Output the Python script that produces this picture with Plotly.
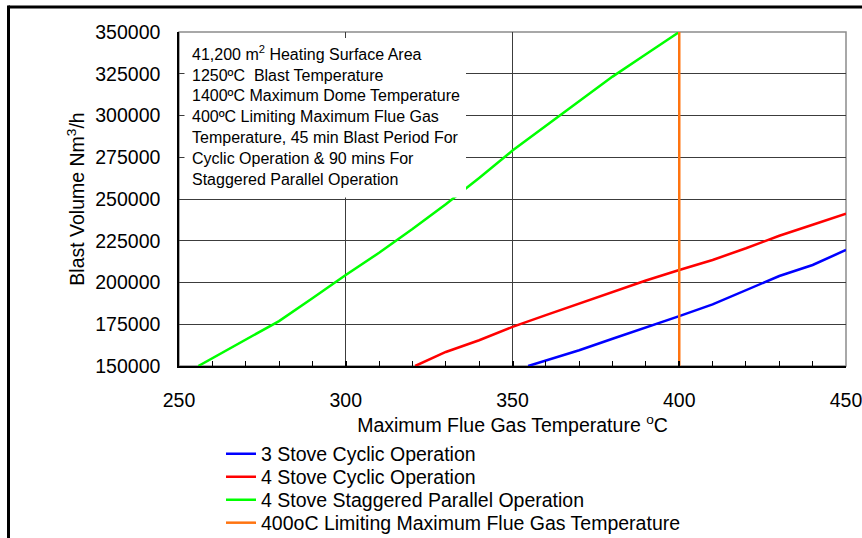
import plotly.graph_objects as go

# ---------------- data ----------------
x_green = [255.8, 260, 270, 280, 290, 300, 310, 320, 330, 340, 350, 360, 370, 380, 390, 400]
y_green = [150000, 154600, 165600, 176900, 190600, 204500, 217800, 232000, 246900, 262600,
           279000, 293800, 308700, 323300, 336700, 350000]

x_red = [320.8, 330, 340, 350, 360, 370, 380, 390, 400, 410, 420, 430, 440, 450]
y_red = [150000, 158400, 165400, 173400, 180500, 187500, 194500, 201200, 207500,
         213500, 220500, 228000, 234600, 241200]

x_blue = [354.7, 360, 370, 380, 390, 400, 410, 420, 430, 440, 450]
y_blue = [150000, 153400, 159400, 166300, 173000, 179900, 186900, 195500, 203900, 210500, 219500]

x_limit = [400, 400]
y_limit = [150000, 350000]

names = ["3 Stove Cyclic Operation", "4 Stove Cyclic Operation",
         "4 Stove Staggered Parallel Operation", "400oC Limiting Maximum Flue Gas Temperature"]
colors = ["#0000FF", "#FF0000", "#00FF00", "#FF7410"]

note_lines = [
    "41,200 m<sup>2</sup> Heating Surface Area",
    "1250ºC  Blast Temperature",
    "1400ºC Maximum Dome Temperature",
    "400ºC Limiting Maximum Flue Gas",
    "Temperature, 45 min Blast Period For",
    "Cyclic Operation & 90 mins For",
    "Staggered Parallel Operation",
]

FONT = "Liberation Sans, Arial, sans-serif"

W, H = 862, 538
L, R, T, B = 179, 16, 32, 172
pw, ph = W - L - R, H - T - B

def px_x(p):
    return (p - L) / pw

def px_y(p):
    return (H - B - p) / ph

legend_ids = ["legend", "legend2", "legend3", "legend4"]
legend_centers = [454, 477, 500, 523]

fig = go.Figure()
for xs, ys, nm, c, lg in zip([x_blue, x_red, x_green, x_limit],
                             [y_blue, y_red, y_green, y_limit], names, colors, legend_ids):
    fig.add_trace(go.Scatter(x=xs, y=ys, mode="lines", name=nm, legend=lg,
                             line=dict(color=c, width=2.5)))

shapes = [
    dict(type="rect", xref="paper", yref="paper", x0=0, y0=0, x1=1, y1=1,
         line=dict(color="#8c8c8c", width=1.5), layer="below"),
    dict(type="rect", xref="paper", yref="paper", x0=px_x(184.5), x1=px_x(466),
         y0=px_y(197.5), y1=px_y(38), fillcolor="white", line=dict(width=0), layer="above"),
    dict(type="line", xref="paper", yref="paper", x0=px_x(8.5), x1=px_x(900),
         y0=px_y(7), y1=px_y(7), line=dict(color="black", width=3), layer="above"),
    dict(type="line", xref="paper", yref="paper", x0=px_x(8.5), x1=px_x(8.5),
         y0=px_y(5.5), y1=px_y(560), line=dict(color="black", width=3), layer="above"),
]

layout_legends = {}
for lg, cy in zip(legend_ids, legend_centers):
    layout_legends[lg] = dict(
        x=px_x(221), y=px_y(cy), xanchor="left", yanchor="middle",
        font=dict(family=FONT, size=19.5, color="black"),
        bgcolor="rgba(0,0,0,0)", borderwidth=0, itemwidth=30)

fig.update_layout(
    width=W, height=H,
    margin=dict(l=L, r=R, t=T, b=B, pad=0, autoexpand=False),
    paper_bgcolor="white", plot_bgcolor="white",
    font=dict(family=FONT, color="black", size=19.5),
    shapes=shapes,
    showlegend=True,
    annotations=[dict(
        xref="paper", yref="paper", x=px_x(190), y=px_y(41), xanchor="left", yanchor="top",
        text="<br>".join(note_lines), align="left", showarrow=False,
        font=dict(family=FONT, size=16, color="black"))],
    **layout_legends,
)

fig.update_xaxes(
    range=[250, 450], dtick=50, tick0=250,
    showgrid=True, gridcolor="#3c3c3c", gridwidth=1,
    showline=True, linecolor="black", linewidth=1.5,
    ticks="inside", ticklen=5, tickcolor="black", tickwidth=1.5,
    minor=dict(dtick=10, ticks="inside", ticklen=5, tickcolor="black", tickwidth=1, showgrid=False),
    tickfont=dict(family=FONT, size=19.5),
    ticklabelstandoff=16, ticklabeloverflow="allow",
    title=dict(text="Maximum Flue Gas Temperature <sup>o</sup>C",
               font=dict(family=FONT, size=19.5), standoff=8),
    zeroline=False, automargin=False,
)
fig.update_yaxes(
    range=[150000, 350000], dtick=25000, tick0=150000,
    showgrid=True, gridcolor="#3c3c3c", gridwidth=1,
    showline=True, linecolor="black", linewidth=1.5,
    ticks="", tickformat="d",
    tickfont=dict(family=FONT, size=19.5),
    ticklabelstandoff=13, ticklabeloverflow="allow",
    title=dict(text="Blast Volume Nm<sup>3</sup>/h",
               font=dict(family=FONT, size=19.5), standoff=5),
    zeroline=False, automargin=False,
)

fig.write_html("out.html")
